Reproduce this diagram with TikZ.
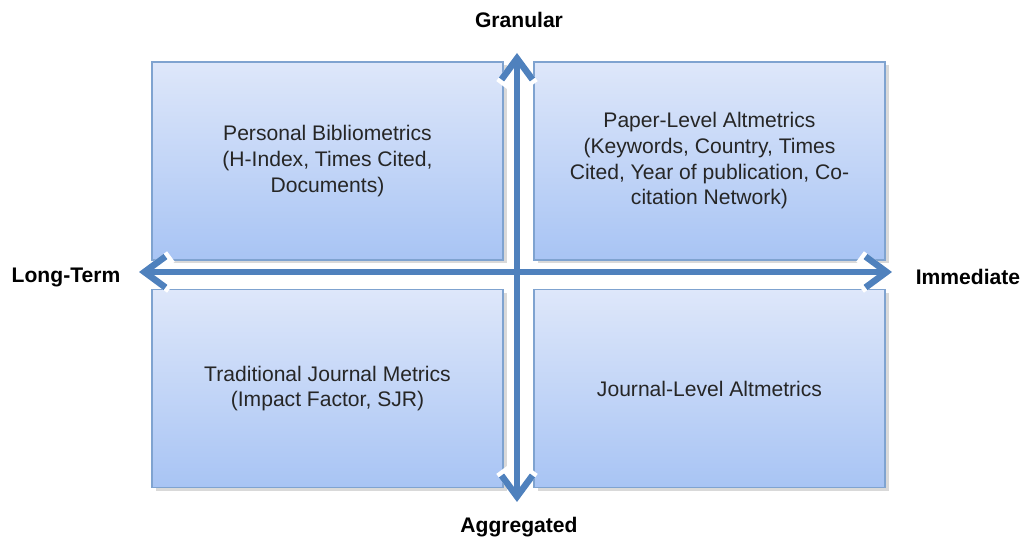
\documentclass[tikz,border=0pt]{standalone}
\usepackage{fontspec}
\setmainfont{Liberation Sans}
\usetikzlibrary{arrows.meta,shadows}
\definecolor{fleche}{HTML}{4F81BD}
\definecolor{bord}{HTML}{7FA3D0}
\definecolor{haut}{HTML}{DEE7FA}
\definecolor{bas}{HTML}{A8C4F4}
\definecolor{texte}{HTML}{262626}
\begin{document}
\begin{tikzpicture}
\tikzset{tiboite/.style={draw=bord, line width=0.8pt, top color=haut, bottom color=bas, minimum width=7.02cm, minimum height=3.96cm, align=center, text=texte, font=\fontsize{12}{14.6}\selectfont, drop shadow={opacity=0.3, shadow xshift=0.07cm, shadow yshift=-0.07cm}}}
\tikzset{tietiq/.style={font=\fontsize{12}{14.4}\selectfont\bfseries}}
\tikzset{tifleche/.style={line width=0.13cm, draw=fleche, {Straight Barb[length=0.42cm, width=0.62cm]}-{Straight Barb[length=0.42cm, width=0.62cm]}}}
\tikzset{tifond/.style={line width=0.26cm, draw=white, {Straight Barb[length=0.42cm, width=0.62cm]}-{Straight Barb[length=0.42cm, width=0.62cm]}}}
\useasboundingbox (0, 0) rectangle (20.48, 10.82);
\node[tiboite] (B1) at (6.55, 7.60) {Personal Bibliometrics\\(H-Index, Times Cited,\\Documents)};
\node[tiboite] (B2) at (14.19, 7.60) {Paper-Level Altmetrics\\(Keywords, Country, Times\\Cited, Year of publication, Co-\\citation Network)};
\node[tiboite] (B3) at (6.55, 3.05) {Traditional Journal Metrics\\(Impact Factor, SJR)};
\node[tiboite] (B4) at (14.19, 3.05) {Journal-Level Altmetrics};
\node[tietiq] (G) at (10.38, 10.42) {Granular};
\node[tietiq] (A) at (10.38, 0.28) {Aggregated};
\node[tietiq] (L) at (1.32, 5.28) {Long-Term};
\node[tietiq] (I) at (19.36, 5.28) {Immediate};
\coordinate (haut) at (10.34, 9.76);
\coordinate (bas) at (10.34, 0.78);
\coordinate (gauche) at (2.78, 5.38);
\coordinate (droite) at (17.84, 5.38);
\draw[tifond] (bas) -- (haut);
\draw[tifond] (gauche) -- (droite);
\draw[tifleche] (bas) -- (haut);
\draw[tifleche] (gauche) -- (droite);
\end{tikzpicture}
\end{document}
